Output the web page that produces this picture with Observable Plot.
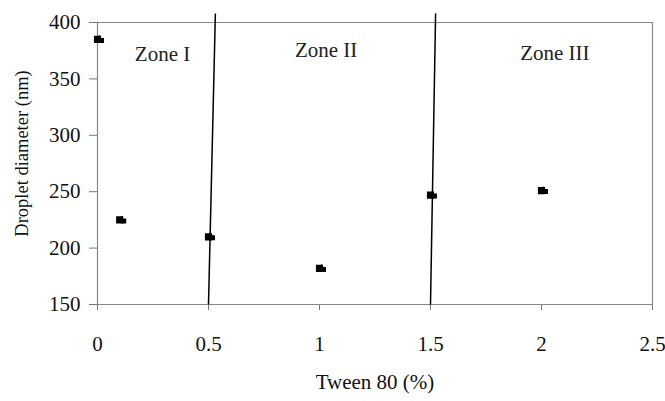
<!DOCTYPE html>
<html>
<head>
<meta charset="utf-8">
<script src="https://cdn.jsdelivr.net/npm/d3@7"></script>
<script src="https://cdn.jsdelivr.net/npm/@observablehq/plot@0.6"></script>
<style>
  html, body { margin: 0; padding: 0; background: #fff; }
  svg text { font-family: "Liberation Serif", "DejaVu Serif", serif; }
</style>
</head>
<body>
<div id="chart"></div>
<script>
// Data
const tween = [0, 0.1, 0.5, 1, 1.5, 2];
const diameter = [385, 225, 210, 182, 247, 251];
const errs = [3, 3, 3, 3, 3, 3];
// Zone boundary lines (x at bottom, x at top)
const boundX1 = [0.5, 1.5];
const boundX2 = [0.531, 1.523];
const boundY1 = [150, 150];
const boundY2 = [408, 408];
const zoneLabels = ["Zone I", "Zone II", "Zone III"];
const zoneX = [0.293, 1.03, 2.06];
const zoneY = [372, 375, 373];
const xTicks = [0, 0.5, 1, 1.5, 2, 2.5];
const yTicks = [150, 200, 250, 300, 350, 400];

const points = tween.map((t, i) => ({x: t, y: diameter[i], e: errs[i]}));
const bounds = boundX1.map((b, i) => ({x1: b, x2: boundX2[i], y1: boundY1[i], y2: boundY2[i]}));
const zones = zoneLabels.map((z, i) => ({label: z, x: zoneX[i], y: zoneY[i]}));

const chart = Plot.plot({
  width: 665,
  height: 401,
  marginLeft: 97,
  marginRight: 13,
  marginTop: 22,
  marginBottom: 97,
  style: {fontFamily: "Liberation Serif", fontSize: "21px", color: "#111", background: "#fff", overflow: "visible"},
  x: {type: "linear", domain: [0, 2.5]},
  y: {type: "linear", domain: [150, 400]},
  marks: [
    Plot.ruleY([400], {stroke: "#888", strokeWidth: 1.2}),
    Plot.ruleX([2.5], {stroke: "#888", strokeWidth: 1.2}),
    Plot.axisX({ticks: xTicks, tickSize: 6, tickPadding: 26, stroke: "#777", fontSize: 21,
      tickFormat: d => String(d), label: null}),
    Plot.axisY({ticks: yTicks, tickSize: 8, tickPadding: 9, stroke: "#777", fontSize: 21,
      tickFormat: d => String(d), label: null}),
    Plot.ruleY([150], {stroke: "#888", strokeWidth: 1.2}),
    Plot.ruleX([0], {stroke: "#888", strokeWidth: 1.2}),
    Plot.link(bounds, {x1: "x1", y1: "y1", x2: "x2", y2: "y2", stroke: "#000", strokeWidth: 1.5, clip: false}),
    Plot.ruleX(points, {x: "x", y1: d => d.y - d.e, y2: d => d.y + d.e, stroke: "#000", strokeWidth: 1.5, dx: 2}),
    Plot.dot(points, {x: "x", y: "y", symbol: "square", r: 3.2, fill: "#000", stroke: "#000"}),
    Plot.dot(points, {x: "x", y: "y", symbol: "square", r: 2, fill: "#000", stroke: "#000", dx: 4, dy: 1}),
    Plot.text(zones, {x: "x", y: "y", text: "label", fontSize: 21, fill: "#222"}),
    Plot.text(["Tween 80 (%)"], {frameAnchor: "bottom", dy: 84, fontSize: 21, fill: "#111"}),
    Plot.text(["Droplet diameter (nm)"], {frameAnchor: "left", textAnchor: "middle", dx: -75, dy: -10, rotate: -90, fontSize: 18.5, fill: "#111"})
  ]
});
document.getElementById("chart").appendChild(chart);
</script>
</body>
</html>
